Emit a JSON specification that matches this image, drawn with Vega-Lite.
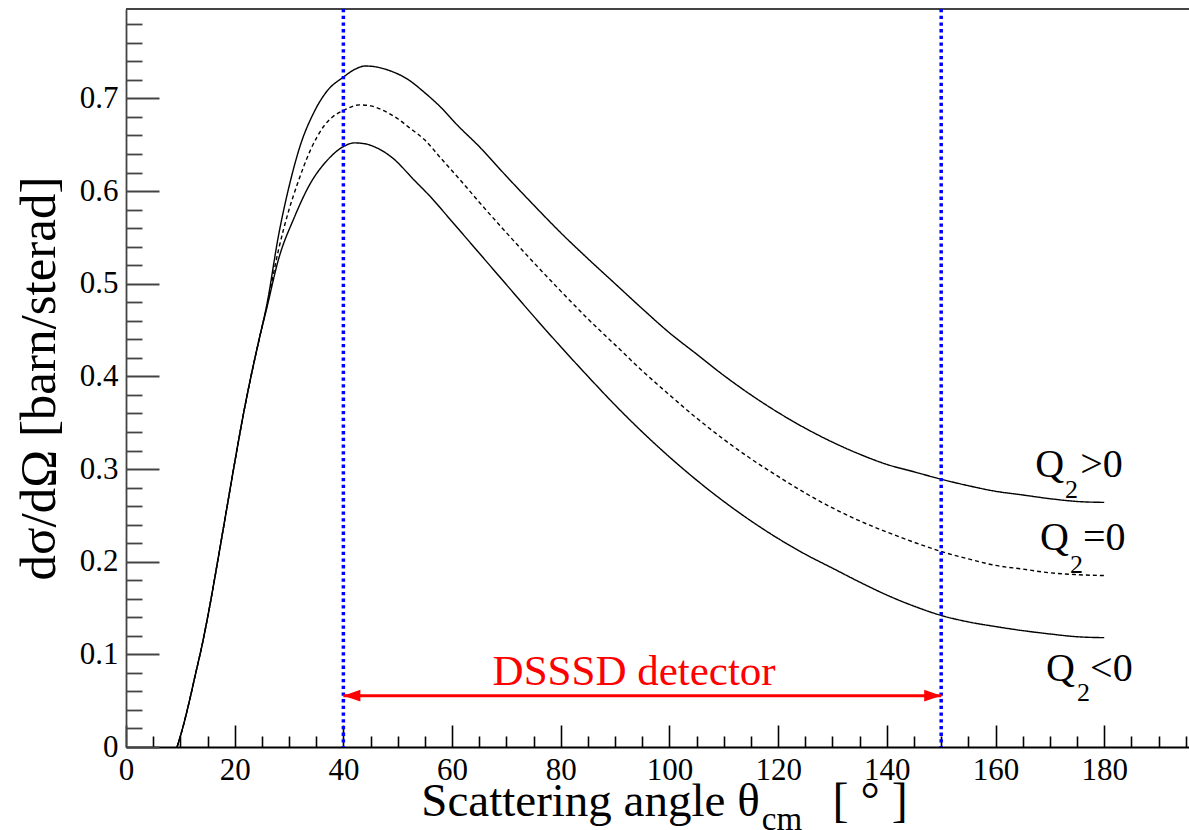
{
  "$schema": "https://vega.github.io/schema/vega-lite/v6.json",
  "width": 1063,
  "height": 738,
  "autosize": {"type": "none"},
  "padding": {"left": 126, "top": 9, "right": 0, "bottom": 83},
  "background": "white",
  "config": {
    "view": {"stroke": null},
    "font": "Liberation Serif",
    "axis": {"grid": false}
  },
  "datasets": {
    "curves": [
      {"x": 9.4, "y": 0, "c": "pos"}, {"x": 10.5, "y": 0.022, "c": "pos"}, {"x": 11.6, "y": 0.048, "c": "pos"}, {"x": 12.8, "y": 0.079, "c": "pos"}, {"x": 14, "y": 0.11, "c": "pos"}, {"x": 15.5, "y": 0.155, "c": "pos"}, {"x": 17, "y": 0.205, "c": "pos"}, {"x": 18.5, "y": 0.256, "c": "pos"}, {"x": 20, "y": 0.307, "c": "pos"}, {"x": 21.5, "y": 0.356, "c": "pos"}, {"x": 23, "y": 0.4, "c": "pos"}, {"x": 24.5, "y": 0.44, "c": "pos"}, {"x": 26, "y": 0.48, "c": "pos"},
      {"x": 28, "y": 0.55, "c": "pos"}, {"x": 30.3, "y": 0.612, "c": "pos"}, {"x": 32, "y": 0.648, "c": "pos"}, {"x": 34.5, "y": 0.684, "c": "pos"}, {"x": 37, "y": 0.708, "c": "pos"}, {"x": 40, "y": 0.723, "c": "pos"}, {"x": 42, "y": 0.731, "c": "pos"}, {"x": 44, "y": 0.735, "c": "pos"}, {"x": 46, "y": 0.734, "c": "pos"}, {"x": 48, "y": 0.731, "c": "pos"}, {"x": 52, "y": 0.72, "c": "pos"}, {"x": 55, "y": 0.706, "c": "pos"}, {"x": 58, "y": 0.69, "c": "pos"}, {"x": 61, "y": 0.671, "c": "pos"}, {"x": 65, "y": 0.648, "c": "pos"}, {"x": 70, "y": 0.616, "c": "pos"}, {"x": 75, "y": 0.585, "c": "pos"}, {"x": 80, "y": 0.555, "c": "pos"}, {"x": 85, "y": 0.527, "c": "pos"}, {"x": 90, "y": 0.5, "c": "pos"}, {"x": 95, "y": 0.473, "c": "pos"}, {"x": 100, "y": 0.447, "c": "pos"}, {"x": 105, "y": 0.424, "c": "pos"}, {"x": 110, "y": 0.401, "c": "pos"}, {"x": 115, "y": 0.38, "c": "pos"}, {"x": 120, "y": 0.361, "c": "pos"}, {"x": 125, "y": 0.344, "c": "pos"}, {"x": 130, "y": 0.329, "c": "pos"}, {"x": 135, "y": 0.316, "c": "pos"}, {"x": 140, "y": 0.305, "c": "pos"}, {"x": 145, "y": 0.297, "c": "pos"}, {"x": 150, "y": 0.289, "c": "pos"}, {"x": 155, "y": 0.282, "c": "pos"}, {"x": 160, "y": 0.276, "c": "pos"}, {"x": 165, "y": 0.272, "c": "pos"}, {"x": 170, "y": 0.268, "c": "pos"}, {"x": 175, "y": 0.265, "c": "pos"}, {"x": 180, "y": 0.264, "c": "pos"},
      {"x": 9.4, "y": 0, "c": "zero"}, {"x": 10.5, "y": 0.022, "c": "zero"}, {"x": 11.6, "y": 0.048, "c": "zero"}, {"x": 12.8, "y": 0.079, "c": "zero"}, {"x": 14, "y": 0.11, "c": "zero"}, {"x": 15.5, "y": 0.155, "c": "zero"}, {"x": 17, "y": 0.205, "c": "zero"}, {"x": 18.5, "y": 0.256, "c": "zero"}, {"x": 20, "y": 0.307, "c": "zero"}, {"x": 21.5, "y": 0.356, "c": "zero"}, {"x": 23, "y": 0.4, "c": "zero"}, {"x": 24.5, "y": 0.44, "c": "zero"}, {"x": 26, "y": 0.478, "c": "zero"},
      {"x": 28, "y": 0.535, "c": "zero"}, {"x": 30, "y": 0.58, "c": "zero"}, {"x": 31.5, "y": 0.607, "c": "zero"}, {"x": 34, "y": 0.645, "c": "zero"}, {"x": 36.4, "y": 0.67, "c": "zero"}, {"x": 38, "y": 0.68, "c": "zero"}, {"x": 40, "y": 0.687, "c": "zero"}, {"x": 43, "y": 0.693, "c": "zero"}, {"x": 45, "y": 0.692, "c": "zero"}, {"x": 47, "y": 0.688, "c": "zero"}, {"x": 50, "y": 0.678, "c": "zero"}, {"x": 52, "y": 0.669, "c": "zero"}, {"x": 55, "y": 0.655, "c": "zero"}, {"x": 58, "y": 0.635, "c": "zero"}, {"x": 61.5, "y": 0.612, "c": "zero"}, {"x": 65, "y": 0.588, "c": "zero"}, {"x": 70, "y": 0.555, "c": "zero"}, {"x": 75, "y": 0.523, "c": "zero"}, {"x": 80, "y": 0.492, "c": "zero"}, {"x": 85, "y": 0.462, "c": "zero"}, {"x": 90, "y": 0.434, "c": "zero"}, {"x": 95, "y": 0.406, "c": "zero"}, {"x": 100, "y": 0.38, "c": "zero"}, {"x": 105, "y": 0.355, "c": "zero"}, {"x": 110, "y": 0.332, "c": "zero"}, {"x": 115, "y": 0.311, "c": "zero"}, {"x": 120, "y": 0.292, "c": "zero"}, {"x": 125, "y": 0.274, "c": "zero"}, {"x": 130, "y": 0.258, "c": "zero"}, {"x": 135, "y": 0.244, "c": "zero"}, {"x": 140, "y": 0.232, "c": "zero"}, {"x": 145, "y": 0.221, "c": "zero"}, {"x": 150, "y": 0.211, "c": "zero"}, {"x": 155, "y": 0.203, "c": "zero"}, {"x": 160, "y": 0.196, "c": "zero"}, {"x": 165, "y": 0.192, "c": "zero"}, {"x": 170, "y": 0.188, "c": "zero"}, {"x": 175, "y": 0.186, "c": "zero"}, {"x": 180, "y": 0.185, "c": "zero"},
      {"x": 9.4, "y": 0, "c": "neg"}, {"x": 10.5, "y": 0.022, "c": "neg"}, {"x": 11.6, "y": 0.048, "c": "neg"}, {"x": 12.8, "y": 0.079, "c": "neg"}, {"x": 14, "y": 0.11, "c": "neg"}, {"x": 15.5, "y": 0.155, "c": "neg"}, {"x": 17, "y": 0.205, "c": "neg"}, {"x": 18.5, "y": 0.256, "c": "neg"}, {"x": 20, "y": 0.307, "c": "neg"}, {"x": 21.5, "y": 0.356, "c": "neg"}, {"x": 23, "y": 0.4, "c": "neg"}, {"x": 24.5, "y": 0.44, "c": "neg"}, {"x": 26, "y": 0.476, "c": "neg"},
      {"x": 28, "y": 0.525, "c": "neg"}, {"x": 31, "y": 0.572, "c": "neg"}, {"x": 33.9, "y": 0.608, "c": "neg"}, {"x": 37, "y": 0.633, "c": "neg"}, {"x": 40, "y": 0.648, "c": "neg"}, {"x": 42, "y": 0.652, "c": "neg"}, {"x": 44, "y": 0.651, "c": "neg"}, {"x": 46, "y": 0.647, "c": "neg"}, {"x": 49, "y": 0.636, "c": "neg"}, {"x": 53, "y": 0.612, "c": "neg"}, {"x": 56, "y": 0.594, "c": "neg"}, {"x": 60, "y": 0.567, "c": "neg"}, {"x": 65, "y": 0.533, "c": "neg"}, {"x": 70, "y": 0.499, "c": "neg"}, {"x": 75, "y": 0.465, "c": "neg"}, {"x": 80, "y": 0.432, "c": "neg"}, {"x": 85, "y": 0.4, "c": "neg"}, {"x": 90, "y": 0.369, "c": "neg"}, {"x": 95, "y": 0.34, "c": "neg"}, {"x": 100, "y": 0.313, "c": "neg"}, {"x": 105, "y": 0.288, "c": "neg"}, {"x": 110, "y": 0.265, "c": "neg"}, {"x": 115, "y": 0.244, "c": "neg"}, {"x": 120, "y": 0.225, "c": "neg"}, {"x": 125, "y": 0.208, "c": "neg"}, {"x": 130, "y": 0.193, "c": "neg"}, {"x": 135, "y": 0.178, "c": "neg"}, {"x": 140, "y": 0.164, "c": "neg"}, {"x": 145, "y": 0.152, "c": "neg"}, {"x": 150, "y": 0.142, "c": "neg"}, {"x": 155, "y": 0.135, "c": "neg"}, {"x": 160, "y": 0.13, "c": "neg"}, {"x": 165, "y": 0.1256, "c": "neg"}, {"x": 170, "y": 0.122, "c": "neg"}, {"x": 175, "y": 0.119, "c": "neg"}, {"x": 180, "y": 0.118, "c": "neg"}
    ],
    "labels": [
      {"x": 167.3, "y": 0.2909, "text": "Q", "kind": "main"},
      {"x": 172.8, "y": 0.2682, "text": "2", "kind": "sub"},
      {"x": 175.6, "y": 0.2909, "text": ">0", "kind": "main"},
      {"x": 168.2, "y": 0.2121, "text": "Q", "kind": "main"},
      {"x": 173.7, "y": 0.1883, "text": "2", "kind": "sub"},
      {"x": 176.1, "y": 0.2121, "text": "=0", "kind": "main"},
      {"x": 169.3, "y": 0.0716, "text": "Q", "kind": "main"},
      {"x": 175.0, "y": 0.05, "text": "2", "kind": "sub"},
      {"x": 177.4, "y": 0.0716, "text": "<0", "kind": "main"}
    ],
    "xtitle": [
      {"x": 116.6, "y": -0.0742, "text": "Scattering angle θ", "part": "lead"},
      {"x": 117.0, "y": -0.0891, "text": "cm", "part": "sub"},
      {"x": 130.0, "y": -0.0742, "text": "[ ° ]", "part": "tail"}
    ]
  },
  "layer": [
    {
      "data": {"name": "curves"},
      "mark": {"type": "line", "color": "black", "strokeWidth": 1.4, "interpolate": "monotone"},
      "encoding": {
        "x": {
          "field": "x", "type": "quantitative",
          "scale": {"domain": [0, 195.6], "nice": false, "zero": false},
          "axis": {
            "title": null,
            "values": [0,5,10,15,20,25,30,35,40,45,50,55,60,65,70,75,80,85,90,95,100,105,110,115,120,125,130,135,140,145,150,155,160,165,170,175,180,185,190,195],
            "tickCount": 200,
            "tickSize": {"condition": {"test": "datum.value % 20 === 0", "value": -22}, "value": -11},
            "tickColor": "black", "tickWidth": 1.6,
            "domainColor": "black", "domainWidth": 2.2,
            "labelExpr": "datum.value % 20 === 0 ? datum.label : ''",
            "format": "d",
            "labelFont": "Liberation Serif", "labelFontSize": 31, "labelColor": "black",
            "labelPadding": 30, "labelOverlap": false, "labelFlush": false, "labelBound": false
          }
        },
        "y": {
          "field": "y", "type": "quantitative",
          "scale": {"domain": [0, 0.7965], "nice": false, "zero": false},
          "axis": {
            "title": "dσ/dΩ [barn/sterad]",
            "titleFont": "Liberation Serif", "titleFontSize": 51, "titleFontWeight": "normal", "titleColor": "black", "titlePadding": 14,
            "values": [0,0.02,0.04,0.06,0.08,0.1,0.12,0.14,0.16,0.18,0.2,0.22,0.24,0.26,0.28,0.3,0.32,0.34,0.36,0.38,0.4,0.42,0.44,0.46,0.48,0.5,0.52,0.54,0.56,0.58,0.6,0.62,0.64,0.66,0.68,0.7,0.72,0.74,0.76,0.78],
            "tickCount": 200,
            "tickSize": {"condition": {"test": "abs(datum.value * 10 - round(datum.value * 10)) < 0.001", "value": -33}, "value": -16},
            "tickColor": "#444", "tickWidth": 1.8,
            "domainColor": "#444", "domainWidth": 1.8,
            "labelExpr": "abs(datum.value * 10 - round(datum.value * 10)) < 0.001 ? datum.label : ''",
            "format": ".1~f",
            "labelFont": "Liberation Serif", "labelFontSize": 31, "labelColor": "black",
            "labelPadding": 41, "labelOverlap": false, "labelFlush": false, "labelBound": false
          }
        },
        "detail": {"field": "c"},
        "strokeDash": {"field": "c", "type": "nominal", "scale": {"domain": ["pos", "zero", "neg"], "range": [[1, 0], [4, 3], [1, 0]]}, "legend": null}
      }
    },
    {
      "data": {"values": [{"y": 0.7965}]},
      "mark": {"type": "rule", "color": "#444", "strokeWidth": 2},
      "encoding": {"y": {"field": "y", "type": "quantitative"}}
    },
    {
      "data": {"values": [{"x": 40}, {"x": 150}]},
      "mark": {"type": "rule", "color": "#0000ff", "strokeWidth": 3.5, "strokeDash": [3.3, 3.4]},
      "encoding": {"x": {"field": "x", "type": "quantitative"}}
    },
    {
      "data": {"values": [{"x": 40, "x2": 150, "y": 0.0554}]},
      "mark": {"type": "rule", "color": "#ff0000", "strokeWidth": 3},
      "encoding": {
        "x": {"field": "x", "type": "quantitative"},
        "x2": {"field": "x2"},
        "y": {"field": "y", "type": "quantitative"}
      }
    },
    {
      "data": {"values": [{"x": 40, "y": 0.0554}]},
      "mark": {"type": "point", "filled": true, "color": "#ff0000", "opacity": 1, "size": 289, "shape": "M 0 0 L 2 -0.7 L 2 0.7 Z"},
      "encoding": {
        "x": {"field": "x", "type": "quantitative"},
        "y": {"field": "y", "type": "quantitative"}
      }
    },
    {
      "data": {"values": [{"x": 150, "y": 0.0554}]},
      "mark": {"type": "point", "filled": true, "color": "#ff0000", "opacity": 1, "size": 289, "shape": "M 0 0 L -2 -0.7 L -2 0.7 Z"},
      "encoding": {
        "x": {"field": "x", "type": "quantitative"},
        "y": {"field": "y", "type": "quantitative"}
      }
    },
    {
      "data": {"values": [{"x": 93.5, "y": 0.0673, "text": "DSSSD detector"}]},
      "mark": {"type": "text", "color": "#ff0000", "font": "Liberation Serif", "fontSize": 43, "align": "center", "baseline": "alphabetic"},
      "encoding": {
        "x": {"field": "x", "type": "quantitative"},
        "y": {"field": "y", "type": "quantitative"},
        "text": {"field": "text"}
      }
    },
    {
      "data": {"name": "labels"},
      "transform": [{"filter": "datum.kind === 'main'"}],
      "mark": {"type": "text", "color": "black", "font": "Liberation Serif", "fontSize": 40, "align": "left", "baseline": "alphabetic"},
      "encoding": {
        "x": {"field": "x", "type": "quantitative"},
        "y": {"field": "y", "type": "quantitative"},
        "text": {"field": "text"}
      }
    },
    {
      "data": {"name": "labels"},
      "transform": [{"filter": "datum.kind === 'sub'"}],
      "mark": {"type": "text", "color": "black", "font": "Liberation Serif", "fontSize": 26, "align": "left", "baseline": "alphabetic"},
      "encoding": {
        "x": {"field": "x", "type": "quantitative"},
        "y": {"field": "y", "type": "quantitative"},
        "text": {"field": "text"}
      }
    },
    {
      "data": {"name": "xtitle"},
      "transform": [{"filter": "datum.part === 'lead'"}],
      "mark": {"type": "text", "color": "black", "font": "Liberation Serif", "fontSize": 47, "align": "right", "baseline": "alphabetic"},
      "encoding": {
        "x": {"field": "x", "type": "quantitative"},
        "y": {"field": "y", "type": "quantitative"},
        "text": {"field": "text"}
      }
    },
    {
      "data": {"name": "xtitle"},
      "transform": [{"filter": "datum.part === 'tail'"}],
      "mark": {"type": "text", "color": "black", "font": "Liberation Serif", "fontSize": 48, "align": "left", "baseline": "alphabetic"},
      "encoding": {
        "x": {"field": "x", "type": "quantitative"},
        "y": {"field": "y", "type": "quantitative"},
        "text": {"field": "text"}
      }
    },
    {
      "data": {"name": "xtitle"},
      "transform": [{"filter": "datum.part === 'sub'"}],
      "mark": {"type": "text", "color": "black", "font": "Liberation Serif", "fontSize": 33, "align": "left", "baseline": "alphabetic"},
      "encoding": {
        "x": {"field": "x", "type": "quantitative"},
        "y": {"field": "y", "type": "quantitative"},
        "text": {"field": "text"}
      }
    }
  ]
}
